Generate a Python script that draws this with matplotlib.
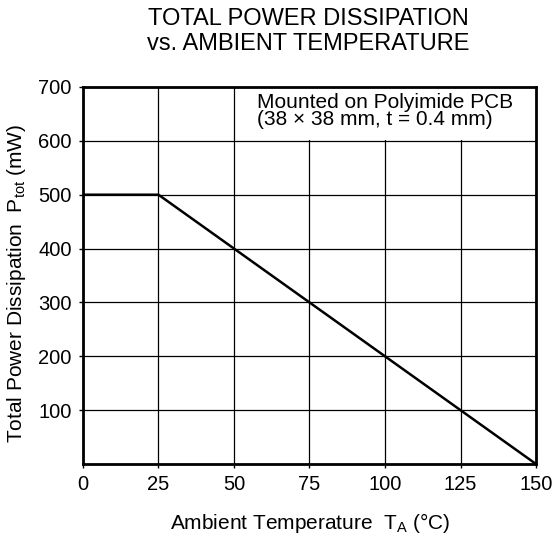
import numpy as np
import matplotlib.pyplot as plt
from matplotlib.patches import Rectangle

# derating curve
temp = [0, 25, 150]
power = [500, 500, 0]
x_ticks = [0, 25, 50, 75, 100, 125, 150]
y_ticks = [100, 200, 300, 400, 500, 600, 700]

plt.rcParams['font.family'] = ['Liberation Sans', 'DejaVu Sans']
plt.rcParams['mathtext.fontset'] = 'custom'
plt.rcParams['mathtext.rm'] = 'Liberation Sans'

fig = plt.figure(figsize=(5.55, 5.4), dpi=100)
ax = fig.add_axes([0.1495, 0.1407, 0.8163, 0.6982])

ax.set_xlim(0, 150)
ax.set_ylim(0, 700)
ax.set_xticks(x_ticks)
ax.set_yticks(y_ticks)
ax.grid(True, color='black', linewidth=0.9)
ax.set_axisbelow(True)

# white area behind the note hides the grid
ax.add_patch(Rectangle((55.5, 601), 94.5, 99, facecolor='white',
                       edgecolor='none', zorder=1.5))
ax.text(57.5, 689, 'Mounted on Polyimide PCB\n(38 \u00d7 38 mm, t = 0.4 mm)',
        fontsize=15, va='top', ha='left', linespacing=0.85, zorder=2)

ax.plot(temp, power, color='black', linewidth=1.8, zorder=3)

for s in ax.spines.values():
    s.set_linewidth(2.0)
    s.set_zorder(4)
ax.tick_params(direction='out', length=3, width=1, labelsize=14.5, pad=5)

fig.text(0.5586, 0.0315, r'Ambient Temperature  T$_\mathrm{A}$ ($\degree$C)',
         fontsize=15, ha='center', va='center')
fig.text(0.0306, 0.475, r'Total Power Dissipation  P$_\mathrm{tot}$ (mW)',
         fontsize=15, ha='center', va='center', rotation=90)

fig.text(0.555, 0.985, 'TOTAL POWER DISSIPATION\nvs. AMBIENT TEMPERATURE',
         ha='center', va='top', fontsize=17, linespacing=1.15)

fig.savefig('out.png', dpi=100)
